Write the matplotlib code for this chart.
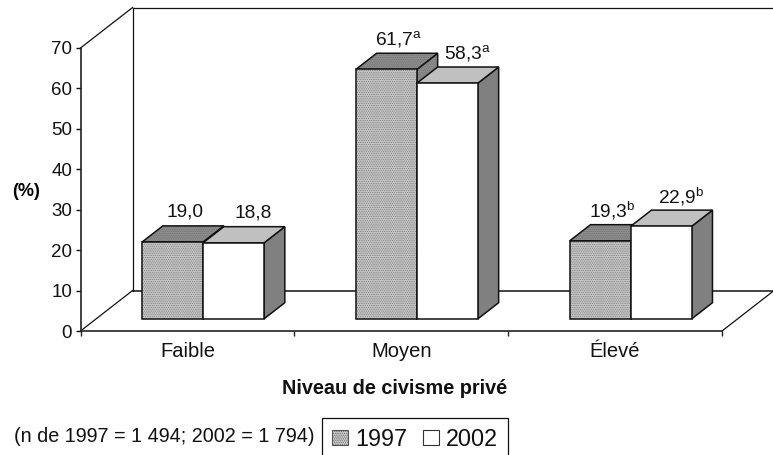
import matplotlib
matplotlib.use('Agg')
import matplotlib.pyplot as plt
from matplotlib.patches import Polygon, Patch

categories = ['Faible', 'Moyen', 'Élevé']
values_1997 = [19.0, 61.7, 19.3]
values_2002 = [18.8, 58.3, 22.9]
labels_1997 = ['19,0', '61,7$^{\\mathrm{a}}$', '19,3$^{\\mathrm{b}}$']
labels_2002 = ['18,8', '58,3$^{\\mathrm{a}}$', '22,9$^{\\mathrm{b}}$']
y_ticks = [0, 10, 20, 30, 40, 50, 60, 70]

plt.rcParams['font.family'] = ['Liberation Sans', 'DejaVu Sans']
plt.rcParams['mathtext.fontset'] = 'custom'
plt.rcParams['mathtext.rm'] = 'Liberation Sans'
plt.rcParams['hatch.linewidth'] = 0.35

W, H = 773, 455
fig = plt.figure(figsize=(W / 100, H / 100), dpi=100)
ax = fig.add_axes([80.5 / W, 1 - 331 / H, (722 - 80.5) / W, (331 - 48) / H])
ax.set_xlim(0, 3)
ax.set_ylim(0, 70)

# oblique depth of the fake 3D box
px_x = (722 - 80.5) / 3
DEPTH_X = 52 / px_x
DEPTH_Y = 10.0
BAR_W = 61 / px_x
D0, D1 = 0.3, 0.7


def proj(x, y, d=0.0):
    return (x + d * DEPTH_X, y + d * DEPTH_Y)


def face(pts, color, hatch=None, z=3):
    if hatch:
        ax.add_patch(Polygon(pts, closed=True, facecolor=color, edgecolor='#6a6a6a',
                             hatch=hatch, lw=0, clip_on=False, zorder=z))
        ax.add_patch(Polygon(pts, closed=True, fill=False, edgecolor='#111111',
                             lw=1.1, clip_on=False, zorder=z))
    else:
        ax.add_patch(Polygon(pts, closed=True, facecolor=color, edgecolor='#111111',
                             lw=1.1, clip_on=False, zorder=z))


def bar3d(x0, val, front, front_hatch, top, side, side_hatch, z):
    x1 = x0 + BAR_W
    face([proj(x1, 0, D0), proj(x1, 0, D1), proj(x1, val, D1), proj(x1, val, D0)],
         side, side_hatch, z)
    face([proj(x0, val, D0), proj(x1, val, D0), proj(x1, val, D1), proj(x0, val, D1)],
         top, side_hatch, z)
    face([proj(x0, 0, D0), proj(x1, 0, D0), proj(x1, val, D0), proj(x0, val, D0)],
         front, front_hatch, z)


# walls and floor
wall = dict(color='#111111', lw=0.9, clip_on=False, zorder=1)
ax.plot(*zip(proj(0, 0), proj(0, 0, 1)), **wall)
ax.plot(*zip(proj(0, 70), proj(0, 70, 1)), **wall)
ax.plot(*zip(proj(0, 0, 1), proj(0, 70, 1)), **wall)
ax.plot(*zip(proj(0, 70, 1), proj(3, 70, 1)), **wall)
ax.plot(*zip(proj(0, 0, 1), proj(3, 0, 1)), color='#111111', lw=1.1, clip_on=False, zorder=1)
ax.plot(*zip(proj(3, 0), proj(3, 0, 1)), **wall)

for i, cat in enumerate(categories):
    left = i + 0.5 - BAR_W
    bar3d(left, values_1997[i], '#c4c4c4', '.........', '#8c8c8c', '#8c8c8c', '.........', 3)
    bar3d(left + BAR_W, values_2002[i], 'white', None, '#c0c0c0', '#808080', None, 4)
    tx, ty = proj(left + BAR_W / 2 + 12 / px_x, values_1997[i] + 7.4, D0)
    ax.text(tx, ty, labels_1997[i], ha='center', va='center', fontsize=13.8, color='#111111', zorder=6)
    tx, ty = proj(left + BAR_W * 1.5 + 20 / px_x, values_2002[i] + 7.4, D0)
    ax.text(tx, ty, labels_2002[i], ha='center', va='center', fontsize=13.8, color='#111111', zorder=6)

ax.patch.set_visible(False)
for s in ['top', 'right']:
    ax.spines[s].set_visible(False)
for s in ['left', 'bottom']:
    ax.spines[s].set_linewidth(1.2)
    ax.spines[s].set_color('#222222')
    ax.spines[s].set_zorder(5)

ax.set_yticks(y_ticks)
ax.tick_params(axis='y', length=3.5, width=1, labelsize=13.5, pad=2.5, colors='#111111')
ax.set_xticks([0, 1, 2, 3])
ax.set_xticklabels([])
ax.tick_params(axis='x', which='major', length=3.5, width=1, color='#222222')
ax.set_xticks([0.5, 1.5, 2.5], minor=True)
ax.set_xticklabels(categories, minor=True, fontsize=14.5, color='#111111')
ax.tick_params(axis='x', which='minor', length=0, pad=8)

fig.text(26 / W, 1 - 192 / H, '(%)', fontsize=13, fontweight='bold', ha='center', va='center')
fig.text(394.5 / W, 1 - 389 / H, 'Niveau de civisme privé', fontsize=14.3, fontweight='bold',
         ha='center', va='center', color='#111111')
fig.text(14 / W, 1 - 437 / H, '(n de 1997 = 1 494; 2002 = 1 794)', fontsize=14.2,
         ha='left', va='center', color='#111111')

handles = [Patch(facecolor='#c4c4c4', edgecolor='#555555', hatch='.........', lw=0.8, label='1997'),
           Patch(facecolor='white', edgecolor='#333333', lw=0.8, label='2002')]
leg = fig.legend(handles=handles, loc='upper left', bbox_to_anchor=(322 / W, 1 - 418 / H),
                 bbox_transform=fig.transFigure, ncol=2, fontsize=16.8, frameon=True,
                 fancybox=False, edgecolor='#111111', framealpha=1, borderaxespad=0,
                 borderpad=0.42, handlelength=0.7, handleheight=0.62, handletextpad=0.3,
                 columnspacing=0.66, labelcolor='#111111')
leg.get_frame().set_linewidth(0.9)

fig.savefig('out.png', dpi=100, facecolor='white')
